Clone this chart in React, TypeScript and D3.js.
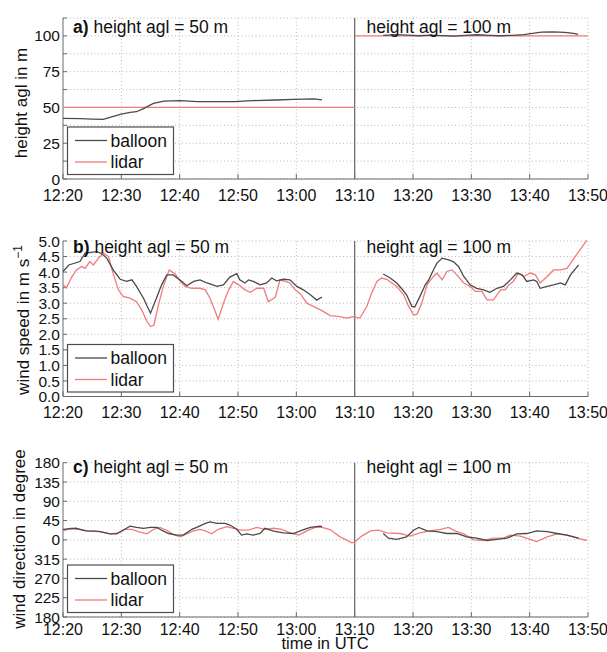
import React, { useEffect, useRef } from 'react';
import * as d3 from 'd3';

// time axis, minutes after 12:20 UTC
const timeTicks = [0, 10, 20, 30, 40, 50, 60, 70, 80, 90];
const timeLabels = ['12:20', '12:30', '12:40', '12:50', '13:00', '13:10', '13:20', '13:30', '13:40', '13:50'];
const switchTime = 50; // 13:10, lidar level changes from 50 m to 100 m

// a) height agl in m
const heightTicks = [0, 25, 50, 75, 100];
const heightBalloon50 = [
  [0, 42.4], [3, 42.2], [5, 41.9], [6.9, 41.7], [8.5, 43.5], [10, 45.3], [11.5, 46.5], [12.6, 47],
  [13.8, 49.2], [15.5, 52.8], [17.3, 54.4], [20.1, 54.8], [23, 54.1], [26, 54], [29.4, 54.1],
  [32.5, 54.8], [36.6, 55.2], [39.5, 55.7], [43, 56], [44.4, 55.3],
];
const heightBalloon100 = [
  [54.9, 100.3], [57, 100.9], [59, 100.5], [61, 100.1], [63, 100.5], [65, 100.2], [67, 99.9],
  [69, 100.4], [71, 100.8], [73, 100.4], [75, 100.1], [77, 100.4], [79, 100.9], [80.5, 101.8],
  [82, 102.6], [84, 102.8], [86, 102.5], [87.5, 101.7], [88.3, 101],
];
const heightLidar50 = [[0, 50], [switchTime, 50]];
const heightLidar100 = [[switchTime, 100], [90, 100]];

// b) wind speed in m/s
const speedTicks = [0, 0.5, 1, 1.5, 2, 2.5, 3, 3.5, 4, 4.5, 5];
const speedBalloon50 = [
  [0, 4.02], [1, 4.23], [2.9, 4.34], [3.8, 4.61], [5.8, 4.66], [6.6, 4.6], [7.5, 4.45], [8.6, 4.07],
  [9.8, 3.77], [10.9, 3.7], [11.8, 3.75], [12.6, 3.54], [13.8, 3.16], [15, 2.68], [16.1, 3.2],
  [16.9, 3.59], [17.8, 3.91], [18.9, 3.91], [20.4, 3.7], [21.2, 3.56], [22.4, 3.7], [23.5, 3.75],
  [24.7, 3.65], [26.4, 3.54], [27.5, 3.59], [28.6, 3.84], [29.8, 3.95], [30.3, 3.75], [31.2, 3.65],
  [31.8, 3.75], [32.6, 3.7], [33.8, 3.59], [34.9, 3.65], [35.8, 3.81], [36.6, 3.72], [37.8, 3.77],
  [38.9, 3.75], [40.1, 3.54], [41.2, 3.43], [42.4, 3.27], [43.5, 3.1], [44.4, 3.2],
];
const speedBalloon100 = [
  [54.9, 3.94], [56.1, 3.81], [57.2, 3.65], [58, 3.48], [58.9, 3.27], [59.8, 2.9], [60.3, 2.88],
  [61.2, 3.22], [62.1, 3.59], [62.7, 3.75], [63.5, 4.07], [64.1, 4.29], [65, 4.45], [66.1, 4.39],
  [66.9, 4.34], [67.8, 4.18], [68.7, 3.86], [69.8, 3.59], [70.9, 3.48], [72.1, 3.43], [73.2, 3.35],
  [74.4, 3.48], [75.5, 3.54], [76.7, 3.75], [77.8, 3.97], [78.7, 3.91], [79.5, 3.7], [80.7, 3.75],
  [81.2, 3.7], [81.8, 3.48], [83, 3.54], [84.1, 3.59], [85.3, 3.65], [86.1, 3.59], [87, 3.91], [88.4, 4.23],
];
const speedLidar = [
  [0, 3.59], [0.6, 3.5], [1.5, 3.84], [2.3, 4.07], [3.2, 4.18], [3.8, 4.12], [4.6, 4.34], [5.2, 4.23],
  [6.1, 4.45], [6.9, 4.61], [7.8, 4.5], [8.6, 3.95], [9.5, 3.43], [10.3, 3.22], [11.5, 3.16],
  [12.6, 3.05], [13.5, 2.78], [14.4, 2.41], [15, 2.25], [15.6, 2.3], [16.3, 2.9], [17.2, 3.54],
  [18.2, 4.07], [19.2, 3.95], [20.1, 3.7], [20.9, 3.54], [22.1, 3.48], [23.5, 3.48], [24.4, 3.43],
  [25.2, 3.16], [26.1, 2.73], [26.6, 2.48], [27.5, 3.0], [28.4, 3.43], [29.2, 3.7], [30.1, 3.59],
  [31.2, 3.43], [32.1, 3.35], [33.2, 3.48], [34.4, 3.48], [35.2, 3.05], [35.8, 3.12], [36.4, 3.2],
  [37.2, 3.75], [38.1, 3.7], [38.9, 3.65], [39.8, 3.43], [40.7, 3.3], [41.8, 3.0], [42.9, 2.9],
  [44.4, 2.76], [45.8, 2.6], [47.5, 2.57], [48.6, 2.52], [49.8, 2.57], [50.9, 2.52], [52.1, 2.9],
  [52.9, 3.32], [53.8, 3.7], [54.6, 3.81], [55.5, 3.77], [57.2, 3.54], [58.4, 3.27], [59.2, 2.92],
  [60.1, 2.62], [60.7, 2.65], [61.5, 3.0], [62.4, 3.59], [63.5, 3.86], [64.1, 3.97], [65, 3.75],
  [65.8, 4.02], [66.7, 4.07], [67.5, 3.91], [68.7, 3.65], [69.8, 3.54], [70.7, 3.38], [71.8, 3.38],
  [72.7, 3.11], [73.8, 3.11], [75, 3.43], [75.8, 3.43], [76.4, 3.59], [77.2, 3.7], [78.1, 3.97],
  [79, 3.86], [80.1, 3.97], [81, 3.91], [81.8, 3.65], [83, 3.86], [84.1, 4.07], [85.3, 4.07],
  [86.4, 4.12], [87.2, 4.34], [88.4, 4.66], [89.8, 5.02],
];

// c) wind direction in degree (signed, negative = west of north)
const directionTicks = [180, 135, 90, 45, 0, -45, -90, -135, -180];
const directionLabels = ['180', '135', '90', '45', '0', '315', '270', '225', '180'];
const dirBalloon50 = [
  [0, 24.6], [2.2, 27], [3.9, 21], [6.2, 20], [8.1, 14], [9.2, 14], [10.3, 22.5], [11.5, 32],
  [12.6, 29], [13.8, 27], [15, 29], [16.1, 29], [16.9, 22.5], [18.1, 14.8], [19.5, 11], [20.6, 11],
  [22.1, 24.6], [23.2, 30.8], [24.4, 38.5], [25.2, 42], [26.4, 38.5], [27.8, 38.5], [28.6, 34.6],
  [29.8, 24.6], [30.6, 11], [31.5, 14], [32.6, 11], [33.8, 14.8], [34.6, 27], [36.1, 20.5],
  [37.8, 16.5], [39.5, 14.8], [41, 22.5], [42.4, 29], [44.1, 32], [44.4, 31],
];
const dirBalloon100 = [
  [54.9, 14.8], [55.8, 4], [57.2, 1], [58.9, 7], [60.1, 22.5], [61, 29], [62.4, 21], [64.1, 19],
  [65.8, 14.8], [67.5, 14.8], [69.2, 7], [70.9, 4], [72.7, -1.5], [74.4, 1], [76.1, 4], [77.8, 14],
  [79.5, 14.8], [81.2, 21], [83, 19], [84.7, 14.8], [86.4, 11], [88.4, 4],
];
const dirLidar = [
  [0, 21], [1.3, 27], [2.7, 24.6], [4.4, 21], [6.2, 19], [8.1, 14], [9.5, 16.5], [10.6, 24.6],
  [11.8, 24.6], [12.9, 19], [14.4, 14], [15.5, 24.6], [16.6, 29], [17.8, 22.5], [18.9, 12.5],
  [20.1, 7], [21.2, 14], [22.4, 21], [23.5, 24.6], [24.4, 21], [25.5, 14], [26.6, 24.6], [28.1, 30.8],
  [29.2, 27], [30.4, 22.5], [31.8, 22.5], [33.2, 29], [34.6, 24.6], [36.1, 27], [37.5, 24.6],
  [38.9, 16.5], [40.4, 11], [41.8, 21], [43.2, 29], [44.4, 29], [45.8, 24], [47.5, 7], [49.5, -6.8],
  [50.1, -4], [51.2, 8.8], [52.7, 21], [54.1, 22.5], [55.5, 16.5], [57.8, 14.8], [59.5, 8.8],
  [61.2, 16.5], [62.9, 21], [64.7, 24.6], [66.1, 29], [67.2, 21], [68.7, 14], [70.4, 0], [72.1, -1.5],
  [73.8, 4], [75.5, 4], [76.7, 11], [78.4, 8.8], [80.1, 1], [81.2, -4], [83, 7], [84.7, 14],
  [86.4, 11], [88.1, 4], [89.8, -1.5],
];

const legendItems = ['balloon', 'lidar'];

const BALLOON = '#4a4a4a';
const LIDAR = '#f27b7b';
const AXIS = '#6a6a6a';
const FONT = '"Liberation Sans", Arial, Helvetica, sans-serif';

const App = () => {
  const svgRef = useRef(null);

  useEffect(() => {
    const svg = d3.select(svgRef.current);
    svg.selectAll('*').remove();

    const x = d3.scaleLinear().domain([0, 90]).range([63, 588]);

    const panels = [
      {
        letter: 'a)', top: 18, bottom: 179, domain: [0, 112.5],
        grid: d3.range(0, 113, 12.5), ticks: heightTicks, labels: heightTicks.map(String),
        ylabel: 'height agl in m', labelX: 27, labelY: 103, titleY: 32.5, xlabY: 200.5,
        balloon: [heightBalloon50, heightBalloon100], lidar: [heightLidar50, heightLidar100],
      },
      {
        letter: 'b)', top: 241, bottom: 396.5, domain: [0, 5],
        grid: speedTicks, ticks: speedTicks, labels: speedTicks.map(d => d.toFixed(1)),
        ylabel: 'wind speed in m s', sup: '−1', labelX: 29, labelY: 320, titleY: 253, xlabY: 418,
        balloon: [speedBalloon50, speedBalloon100], lidar: [speedLidar],
      },
      {
        letter: 'c)', top: 462.7, bottom: 617, domain: [-180, 180],
        grid: directionTicks, ticks: directionTicks, labels: directionLabels,
        ylabel: 'wind direction in degree', labelX: 24.5, labelY: 539, titleY: 473, xlabY: 635,
        balloon: [dirBalloon50, dirBalloon100], lidar: [dirLidar],
      },
    ];

    panels.forEach(p => {
      const y = d3.scaleLinear().domain(p.domain).range([p.bottom, p.top]);
      const g = svg.append('g');

      // dotted grid
      g.selectAll('.hgrid').data(p.grid).enter().append('line')
        .attr('x1', x(0)).attr('x2', x(90))
        .attr('y1', d => y(d)).attr('y2', d => y(d))
        .attr('stroke', '#b8b8b8').attr('stroke-dasharray', '1,2.5');
      g.selectAll('.vgrid').data(timeTicks.slice(1)).enter().append('line')
        .attr('x1', d => x(d)).attr('x2', d => x(d))
        .attr('y1', p.top).attr('y2', p.bottom)
        .attr('stroke', '#b8b8b8').attr('stroke-dasharray', '1,2.5');

      // axes (box off)
      g.append('line').attr('x1', x(0)).attr('x2', x(0)).attr('y1', p.top).attr('y2', p.bottom)
        .attr('stroke', AXIS);
      g.append('line').attr('x1', x(0)).attr('x2', x(90)).attr('y1', p.bottom).attr('y2', p.bottom)
        .attr('stroke', AXIS);
      g.selectAll('.ytick').data(p.grid).enter().append('line')
        .attr('x1', x(0)).attr('x2', x(0) + 4)
        .attr('y1', d => y(d)).attr('y2', d => y(d)).attr('stroke', AXIS);
      g.selectAll('.xtick').data(timeTicks).enter().append('line')
        .attr('x1', d => x(d)).attr('x2', d => x(d))
        .attr('y1', p.bottom).attr('y2', p.bottom - 5).attr('stroke', AXIS);

      // switch from 50 m to 100 m
      g.append('line').attr('x1', x(switchTime)).attr('x2', x(switchTime))
        .attr('y1', p.top).attr('y2', p.bottom)
        .attr('stroke', '#707070').attr('stroke-width', 1.3);

      // tick labels
      g.selectAll('.ylab').data(p.ticks).enter().append('text')
        .attr('x', 60).attr('y', d => y(d)).attr('dy', '0.36em')
        .attr('text-anchor', 'end').attr('font-size', 15.5)
        .text((d, i) => p.labels[i]);
      g.selectAll('.xlab').data(timeTicks).enter().append('text')
        .attr('x', d => x(d)).attr('y', p.xlabY)
        .attr('text-anchor', 'middle').attr('font-size', 16)
        .text((d, i) => timeLabels[i]);

      // y axis title
      const yl = g.append('text')
        .attr('transform', `translate(${p.labelX},${p.labelY}) rotate(-90)`)
        .attr('text-anchor', 'middle').attr('font-size', 17);
      yl.append('tspan').text(p.ylabel);
      if (p.sup) {
        yl.append('tspan').attr('baseline-shift', 'super').attr('font-size', 12).text(p.sup);
      }

      // data lines
      const line = d3.line().x(d => x(d[0])).y(d => y(d[1]));
      p.lidar.forEach(s => {
        g.append('path').attr('d', line(s)).attr('fill', 'none')
          .attr('stroke', LIDAR).attr('stroke-width', 1.3);
      });
      p.balloon.forEach(s => {
        g.append('path').attr('d', line(s)).attr('fill', 'none')
          .attr('stroke', BALLOON).attr('stroke-width', 1.3);
      });

      // panel titles
      const t = g.append('text').attr('x', 73).attr('y', p.titleY).attr('font-size', 17.5);
      t.append('tspan').attr('font-weight', 'bold').text(p.letter);
      t.append('tspan').text(' height agl = 50 m');
      g.append('text').attr('x', 366.5).attr('y', p.titleY).attr('font-size', 17.5)
        .text('height agl = 100 m');

      // legend
      const lb = p.bottom - 4.5;
      const lt = lb - 47.5;
      g.append('rect').attr('x', 67.5).attr('y', lt).attr('width', 106).attr('height', 47.5)
        .attr('fill', 'white').attr('stroke', '#4d4d4d').attr('stroke-width', 1.2);
      legendItems.forEach((name, i) => {
        const ly = lt + 13.5 + i * 21.5;
        g.append('line').attr('x1', 75).attr('x2', 107).attr('y1', ly).attr('y2', ly)
          .attr('stroke', i === 0 ? BALLOON : LIDAR).attr('stroke-width', 1.3);
        g.append('text').attr('x', 110.5).attr('y', ly).attr('dy', '0.36em')
          .attr('font-size', 17.5).text(name);
      });
    });

    svg.append('text').attr('x', 325).attr('y', 648.5).attr('text-anchor', 'middle')
      .attr('font-size', 16.5).text('time in UTC');
  }, []);

  return (
    <svg
      ref={svgRef}
      width={607}
      height={652}
      style={{ position: 'absolute', left: 0, top: 0, fontFamily: FONT, background: 'white' }}
      fill="#111"
    />
  );
};

export default App;
